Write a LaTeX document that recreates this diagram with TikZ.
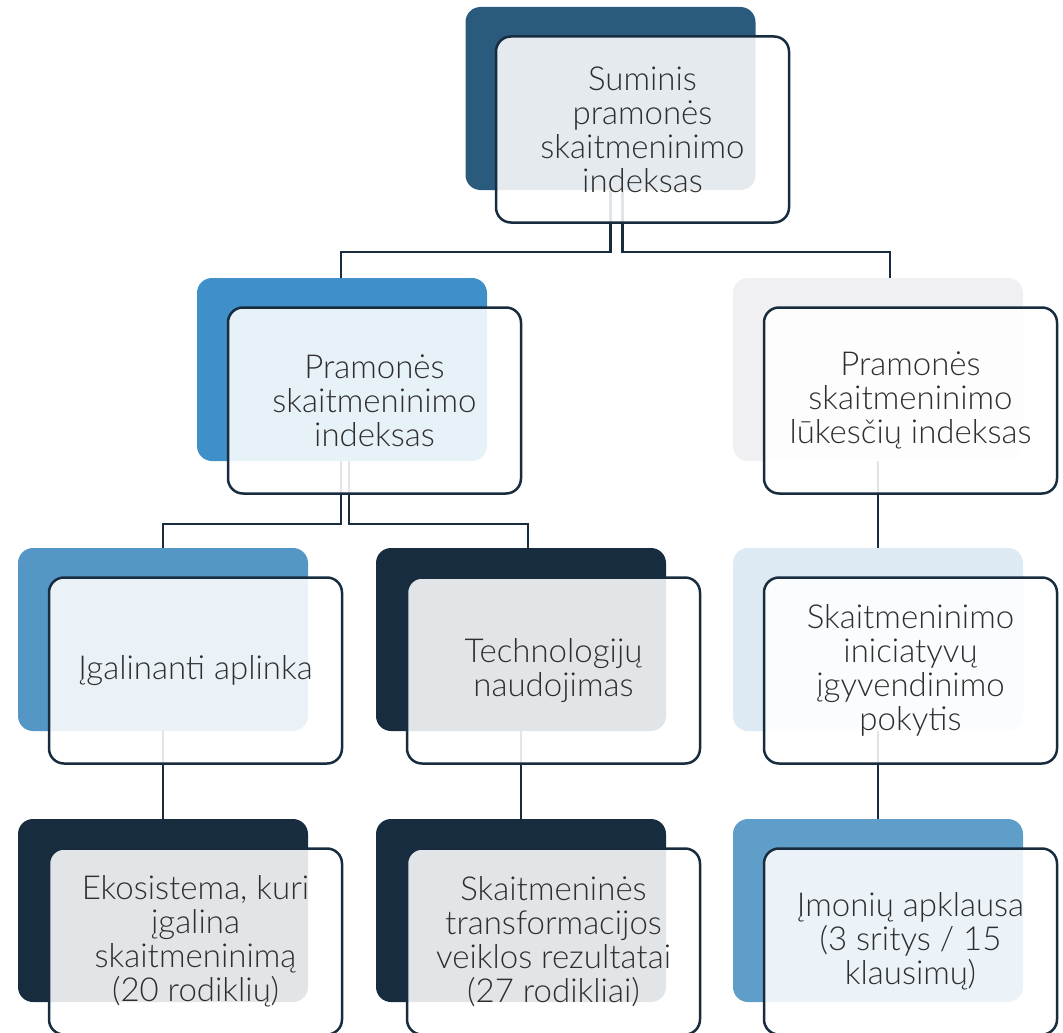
\documentclass[tikz,border=0pt]{standalone}
\usepackage{fontspec}
\setmainfont{Lato}[UprightFont=* Light]
\definecolor{navy}{HTML}{172C3E}
\definecolor{steel}{HTML}{2A5A7C}
\definecolor{midblue}{HTML}{3F8FC8}
\definecolor{softblue}{HTML}{5497C7}
\definecolor{paleblue}{HTML}{DDE9F3}
\definecolor{palegray}{HTML}{F0F0F2}
\definecolor{skyblue}{HTML}{5F9EC9}
\definecolor{txt}{HTML}{2E2E2E}
\tikzset{
  back/.style={rounded corners=15pt,inner sep=0pt,minimum width=290pt,minimum height=183pt,fill=#1},
  front/.style={rounded corners=15pt,draw=navy,line width=2.5pt,fill=white,fill opacity=0.88,text opacity=1,text=txt,inner sep=0pt,minimum width=293pt,minimum height=186pt,align=center,font=\fontsize{33}{34}\selectfont},
  link/.style={draw=navy,line width=2.5pt}
}
\begin{document}
\begin{tikzpicture}[x=1pt,y=-1pt]
\useasboundingbox (0,0) rectangle (1063,1033);
\node[back=steel] (sumB) at (610.5,98.5) {};
\node[back=midblue] (psiB) at (342,369.5) {};
\node[back=palegray] (pliB) at (878,369.5) {};
\node[back=softblue] (igaB) at (163,639.5) {};
\node[back=navy] (tecB) at (521,639.5) {};
\node[back=paleblue] (iniB) at (878,639.5) {};
\node[back=navy] (ekoB) at (163,910.5) {};
\node[back=navy] (strB) at (521,910.5) {};
\node[back=skyblue] (apkB) at (878,910.5) {};
\draw[link] (sumB.south) -- ++(0,62) -| ([xshift=-1pt]psiB.north);
\draw[link] ([xshift=12pt]sumB.south) -- ++(0,62) -| ([xshift=12pt]pliB.north);
\draw[link] ([xshift=-1pt]psiB.south) -- ++(0,63) -| (igaB.north);
\draw[link] ([xshift=7pt]psiB.south) -- ++(0,63) -| ([xshift=7pt]tecB.north);
\draw[link] (pliB.south) -- (iniB.north);
\draw[link] (igaB.south) -- (ekoB.north);
\draw[link] (tecB.south) -- (strB.north);
\draw[link] (iniB.south) -- (apkB.north);
\node[front] (sum) at (642.5,129.5) {Suminis\\pramonės\\skaitmeninimo\\indeksas};
\node[front] (psi) at (374.5,400.5) {Pramonės\\skaitmeninimo\\indeksas};
\node[front] (pli) at (910.5,400.5) {Pramonės\\skaitmeninimo\\lūkesčių indeksas};
\node[front] (iga) at (195.5,670.5) {Įgalinanti aplinka};
\node[front] (tec) at (553.5,670.5) {Technologijų\\naudojimas};
\node[front] (ini) at (910.5,670.5) {Skaitmeninimo\\iniciatyvų\\įgyvendinimo\\pokytis};
\node[front] (eko) at (195.5,941.5) {Ekosistema, kuri\\įgalina\\skaitmeninimą\\(20 rodiklių)};
\node[front] (str) at (553.5,941.5) {Skaitmeninės\\transformacijos\\veiklos rezultatai\\(27 rodikliai)};
\node[front] (apk) at (910.5,941.5) {Įmonių apklausa\\(3 sritys / 15\\klausimų)};
\end{tikzpicture}
\end{document}
